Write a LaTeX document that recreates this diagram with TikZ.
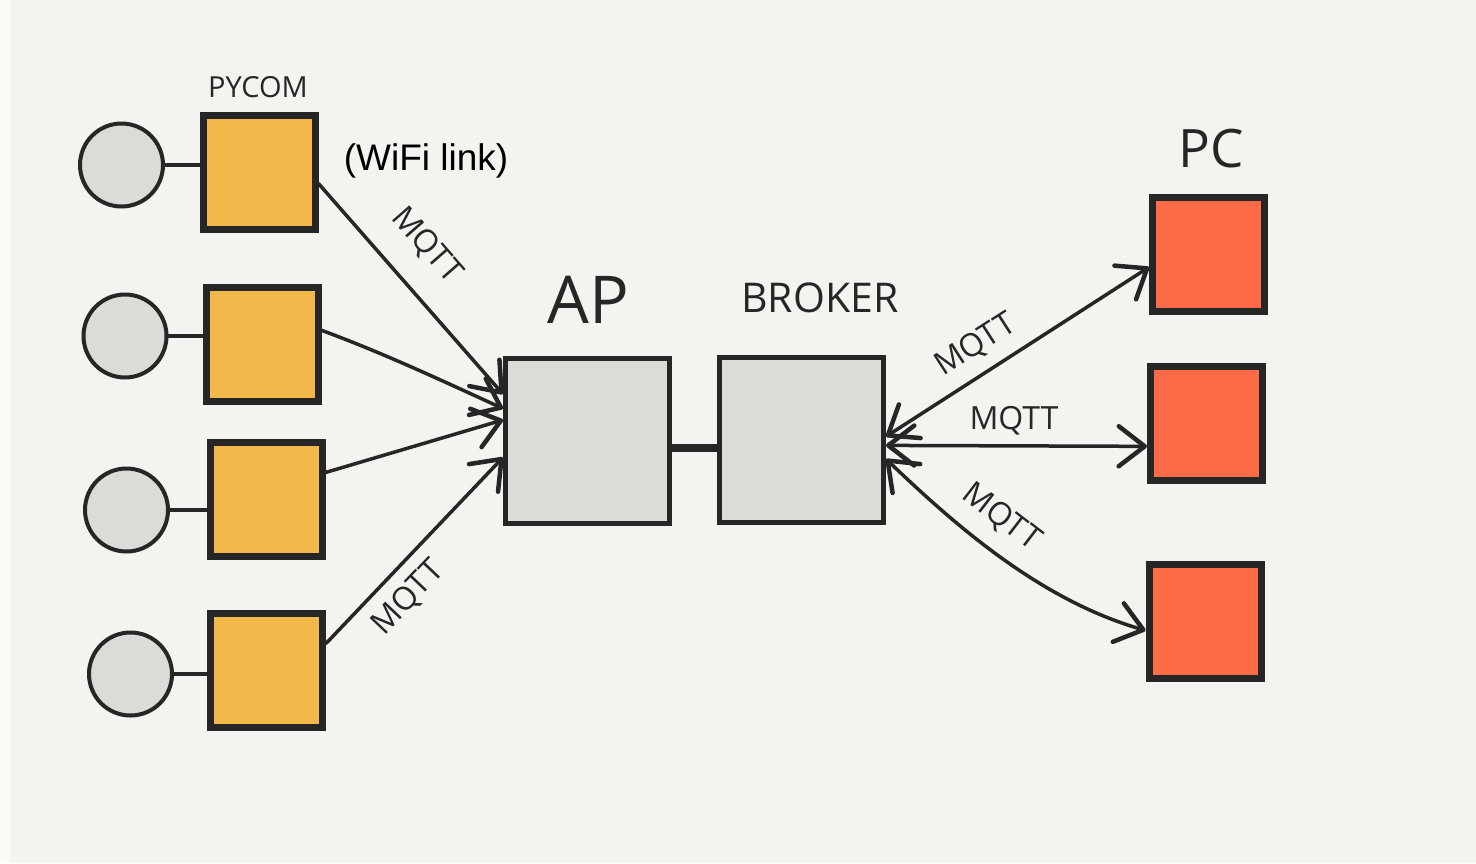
\documentclass[tikz,border=0pt]{standalone}
\usepackage{xcolor}
\usepackage{fontspec}
\setmainfont{Liberation Sans}
\newfontfamily\handfont{Open Sans}
\usepackage{tikz}
\usetikzlibrary{arrows.meta}
\definecolor{paper}{HTML}{F4F3EF}
\definecolor{ink}{HTML}{262626}
\definecolor{pyyellow}{HTML}{F2B94A}
\definecolor{pcred}{HTML}{FF6B47}
\definecolor{boxgrey}{HTML}{DCDBD7}
\tikzset{
	sensor/.style={circle, draw=ink, line width=4pt, fill=boxgrey, minimum size=83pt, inner sep=0pt},
	pycom/.style={draw=ink, line width=7pt, fill=pyyellow, minimum width=112pt, minimum height=114pt, inner sep=0pt},
	pcbox/.style={draw=ink, line width=7pt, fill=pcred, minimum width=112pt, minimum height=114pt, inner sep=0pt},
	hubbox/.style={draw=ink, line width=5pt, fill=boxgrey, minimum width=164pt, minimum height=165pt, inner sep=0pt},
	link/.style={draw=ink, line width=3.5pt, line cap=round},
	barb/.tip={Straight Barb[round, length=26pt, width=40pt, line width=4.5pt]},
	hand/.style={text=ink, inner sep=0pt, font=\handfont\fontsize{#1}{#1}\selectfont},
	mqtt/.style={hand=32, sloped}
}

\begin{document}
\begin{tikzpicture}[x=1pt, y=-1pt]
	\useasboundingbox (0,0) rectangle (1476,863);
	\fill[paper] (0,0) rectangle (1476,863);
	\fill[white!60!paper] (0,0) rectangle (10,863);
	\path (121.5,165) node[sensor] (c1) {};
	\path (125,336) node[sensor] (c2) {};
	\path (126.5,510) node[sensor] (c3) {};
	\path (130.5,674) node[sensor] (c4) {};
	\path (259,172) node[pycom] (y1) {};
	\path (262,344) node[pycom] (y2) {};
	\path (266,499) node[pycom] (y3) {};
	\path (266.5,670) node[pycom] (y4) {};
	\path (587.5,441) node[hubbox] (ap) {};
	\path (801.5,439.5) node[hubbox] (broker) {};
	\path (1208.5,254.5) node[pcbox] (pc1) {};
	\path (1206.5,423.5) node[pcbox] (pc2) {};
	\path (1205,621) node[pcbox] (pc3) {};
	\path (258,87) node[hand=29] (pycomlbl) {PYCOM};
	\path (588,300) node[hand=66] (aplbl) {AP};
	\path (820,298) node[hand=41] (brokerlbl) {BROKER};
	\path (1211,149) node[hand=53] (pclbl) {PC};
	\path (426,161) node[text=black, inner sep=0pt, font=\fontsize{37}{37}\selectfont] (wifi) {(WiFi link)};
	\draw[link] (c1.east) -- (c1.east -| y1.west);
	\draw[link] (c2.east) -- (c2.east -| y2.west);
	\draw[link] (c3.east) -- (c3.east -| y3.west);
	\draw[link] (c4.east) -- (c4.east -| y4.west);
	\draw[link, line width=8pt, line cap=butt] ([yshift=-7pt]ap.east) -- ([yshift=-7pt]ap.east -| broker.west);
	\draw[link,-barb] (y1.349) -- node[mqtt, above=24pt, pos=0.42] (mqtta) {MQTT} (ap.151);
	\draw[link,-barb] (y2.13) .. controls (380,352) and (430,375) .. (ap.159);
	\draw[link,-barb] (y3.24) -- (ap.166);
	\draw[link,-barb] (y4.24) -- node[mqtt, below=12pt, pos=0.35] (mqttb) {MQTT} (ap.191);
	\draw[link,barb-barb] (broker.2) -- node[mqtt, above=12pt, pos=0.4] (mqttc) {MQTT} (pc1.192);
	\draw[link,barb-barb] (broker.-4) -- node[mqtt, above=9pt, pos=0.49] (mqttd) {MQTT} (pc2.201);
	\draw[link,barb-barb] (broker.-13) .. controls (955,525) and (1040,600) .. node[mqtt, above=16pt, pos=0.42] (mqtte) {MQTT} (pc3.189);
\end{tikzpicture}
\end{document}
